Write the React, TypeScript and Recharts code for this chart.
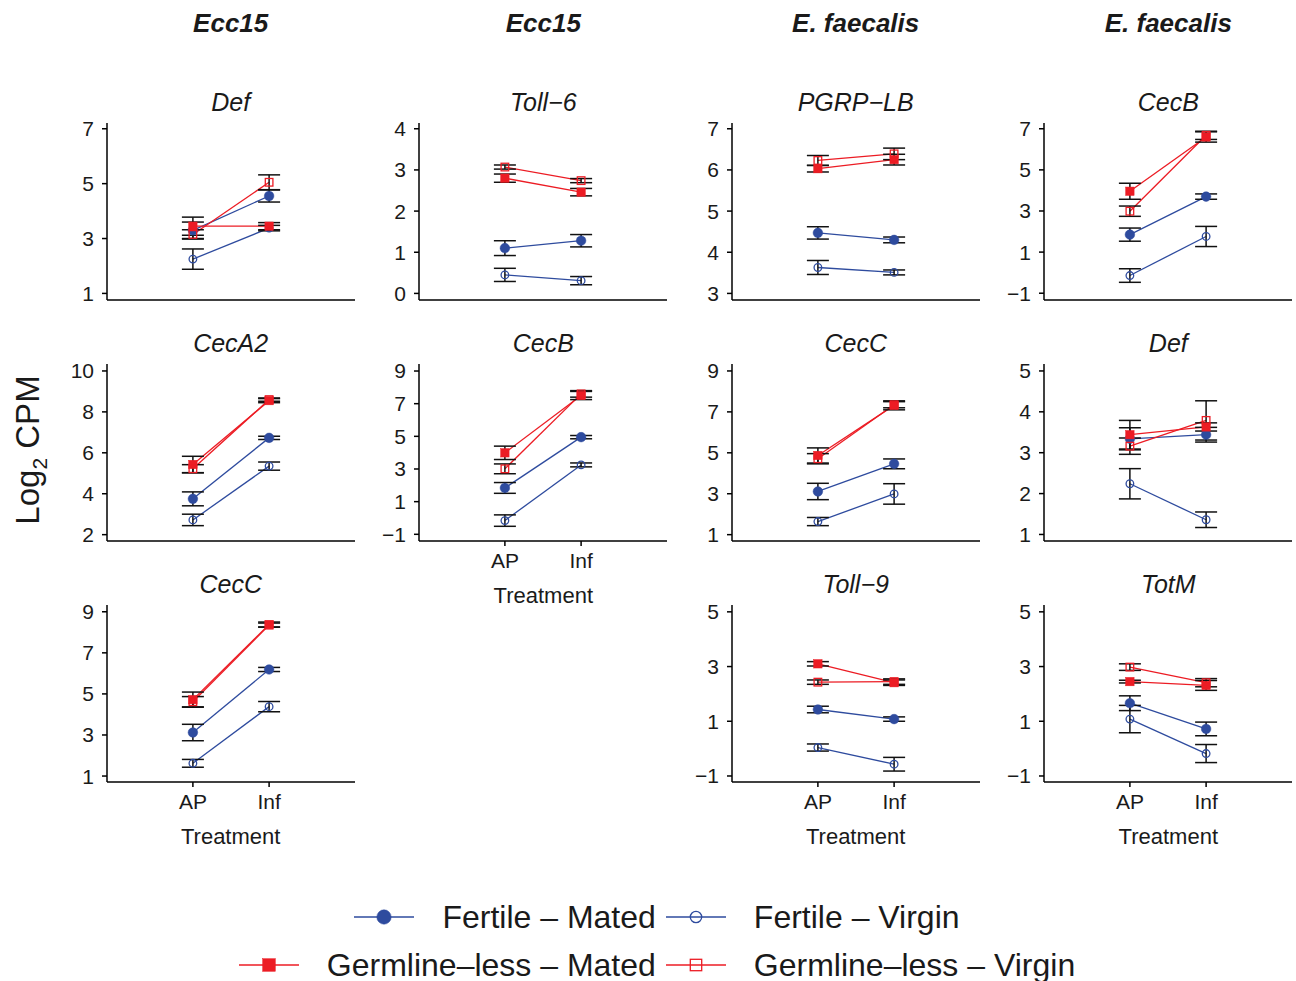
import React from 'react';
import { LineChart, Line, XAxis, YAxis, ErrorBar } from 'recharts';

// ---------- data ----------
const treatments = ['AP', 'Inf'];
const groupNames = ['Fertile – Mated', 'Fertile – Virgin', 'Germline–less – Mated', 'Germline–less – Virgin'];
const groupKeys = ['fm', 'fv', 'gm', 'gv'];
const headers = ['Ecc15', 'Ecc15', 'E. faecalis', 'E. faecalis'];

// means: [Fertile-Mated, Fertile-Virgin, Germline-less-Mated, Germline-less-Virgin], each [AP, Inf]
const ecc15DefMean = [[3.3, 4.55], [2.25, 3.38], [3.45, 3.45], [3.15, 5.05]];
const ecc15DefErr = [[0.3, 0.22], [0.37, 0.1], [0.33, 0.13], [0.17, 0.27]];
const ecc15Toll6Mean = [[1.1, 1.28], [0.45, 0.31], [2.8, 2.46], [3.07, 2.74]];
const ecc15Toll6Err = [[0.18, 0.15], [0.16, 0.1], [0.1, 0.09], [0.05, 0.05]];
const efPgrpMean = [[4.47, 4.3], [3.63, 3.51], [6.03, 6.25], [6.23, 6.39]];
const efPgrpErr = [[0.15, 0.07], [0.17, 0.06], [0.08, 0.13], [0.12, 0.14]];
const efCecBMean = [[1.85, 3.7], [-0.14, 1.76], [3.96, 6.6], [2.99, 6.68]];
const efCecBErr = [[0.32, 0.13], [0.33, 0.49], [0.39, 0.25], [0.25, 0.2]];
const ecc15CecA2Mean = [[3.75, 6.73], [2.72, 5.35], [5.43, 8.55], [5.22, 8.6]];
const ecc15CecA2Err = [[0.34, 0.08], [0.28, 0.2], [0.4, 0.1], [0.2, 0.08]];
const ecc15CecBMean = [[1.84, 4.95], [-0.16, 3.25], [3.99, 7.5], [3.01, 7.6]];
const ecc15CecBErr = [[0.33, 0.1], [0.35, 0.12], [0.41, 0.25], [0.3, 0.2]];
const efCecCMean = [[3.11, 4.46], [1.64, 2.99], [4.87, 7.32], [4.71, 7.35]];
const efCecCErr = [[0.4, 0.24], [0.2, 0.5], [0.37, 0.22], [0.25, 0.15]];
const efDefMean = [[3.34, 3.44], [2.24, 1.36], [3.44, 3.63], [3.16, 3.79]];
const efDefErr = [[0.27, 0.18], [0.37, 0.19], [0.35, 0.1], [0.2, 0.48]];
const ecc15CecCMean = [[3.12, 6.19], [1.62, 4.38], [4.72, 8.38], [4.62, 8.35]];
const ecc15CecCErr = [[0.4, 0.1], [0.19, 0.25], [0.37, 0.12], [0.25, 0.1]];
const efToll9Mean = [[1.43, 1.08], [0.04, -0.57], [3.1, 2.41], [2.43, 2.45]];
const efToll9Err = [[0.12, 0.08], [0.13, 0.25], [0.08, 0.1], [0.08, 0.1]];
const efTotMMean = [[1.66, 0.72], [1.08, -0.18], [2.45, 2.31], [2.98, 2.41]];
const efTotMErr = [[0.27, 0.25], [0.5, 0.33], [0.05, 0.18], [0.12, 0.15]];

// ---------- layout / styling ----------
const BLUE = '#2E4B9E';
const RED = '#EC1C24';
const colLefts = [106.7, 419.3, 731.7, 1044.3];
const rowTops = [122.7, 363.7, 604.7];
const PW = 248;
const PH = 177;
const YW = 60;
const MT = 14;
const XH = 40;
const FONT = "'Liberation Sans', Arial, Helvetica, sans-serif";

const panels = [
  { title: 'Def', col: 0, row: 0, mean: ecc15DefMean, err: ecc15DefErr, domain: [0.76, 7.21], ticks: [1, 3, 5, 7], showX: false },
  { title: 'Toll−6', col: 1, row: 0, mean: ecc15Toll6Mean, err: ecc15Toll6Err, domain: [-0.16, 4.14], ticks: [0, 1, 2, 3, 4], showX: false },
  { title: 'PGRP−LB', col: 2, row: 0, mean: efPgrpMean, err: efPgrpErr, domain: [2.84, 7.14], ticks: [3, 4, 5, 6, 7], showX: false },
  { title: 'CecB', col: 3, row: 0, mean: efCecBMean, err: efCecBErr, domain: [-1.33, 7.28], ticks: [-1, 1, 3, 5, 7], showX: false },
  { title: 'CecA2', col: 0, row: 1, mean: ecc15CecA2Mean, err: ecc15CecA2Err, domain: [1.69, 10.34], ticks: [2, 4, 6, 8, 10], showX: false },
  { title: 'CecB', col: 1, row: 1, mean: ecc15CecBMean, err: ecc15CecBErr, domain: [-1.41, 9.43], ticks: [-1, 1, 3, 5, 7, 9], showX: true },
  { title: 'CecC', col: 2, row: 1, mean: efCecCMean, err: efCecCErr, domain: [0.69, 9.34], ticks: [1, 3, 5, 7, 9], showX: false },
  { title: 'Def', col: 3, row: 1, mean: efDefMean, err: efDefErr, domain: [0.84, 5.17], ticks: [1, 2, 3, 4, 5], showX: false },
  { title: 'CecC', col: 0, row: 2, mean: ecc15CecCMean, err: ecc15CecCErr, domain: [0.71, 9.33], ticks: [1, 3, 5, 7, 9], showX: true },
  { title: 'Toll−9', col: 2, row: 2, mean: efToll9Mean, err: efToll9Err, domain: [-1.22, 5.25], ticks: [-1, 1, 3, 5], showX: true },
  { title: 'TotM', col: 3, row: 2, mean: efTotMMean, err: efTotMErr, domain: [-1.22, 5.25], ticks: [-1, 1, 3, 5], showX: true },
];

const groupColors = [BLUE, BLUE, RED, RED];
const groupShapes = ['circleFilled', 'circleOpen', 'squareFilled', 'squareOpen'];

function buildRows(mean: number[][], err: number[][]) {
  return treatments.map((t, i) => {
    const row: any = { x: i + 1, treatment: t };
    groupKeys.forEach((k, g) => {
      row[k] = mean[g][i];
      row[k + 'Err'] = err[g][i];
    });
    return row;
  });
}

function Marker({ shape, color, cx, cy, scale = 1 }: any) {
  if (shape === 'circleFilled') return <circle cx={cx} cy={cy} r={4.8 * scale} fill={color} stroke={color} strokeWidth={0.5} />;
  if (shape === 'circleOpen') return <circle cx={cx} cy={cy} r={3.8 * scale} fill="none" stroke={color} strokeWidth={1.3} />;
  if (shape === 'squareFilled') {
    const s = 8.4 * scale;
    return <rect x={cx - s / 2} y={cy - s / 2} width={s} height={s} fill={color} stroke={color} strokeWidth={0.5} />;
  }
  const s = 7.6 * scale;
  return <rect x={cx - s / 2} y={cy - s / 2} width={s} height={s} fill="none" stroke={color} strokeWidth={1.3} />;
}

const makeDot = (shape: string, color: string) => (props: any) => {
  const { cx, cy, index } = props;
  if (cx == null || cy == null) return <g key={'e' + index} />;
  return (
    <g key={shape + index}>
      <Marker shape={shape} color={color} cx={cx} cy={cy} />
    </g>
  );
};

const fmtY = (v: number) => (v < 0 ? '−' + Math.abs(v) : String(v));
const fmtX = (v: number) => treatments[v - 1] ?? '';

function Panel({ p }: any) {
  const data = buildRows(p.mean, p.err);
  const left = colLefts[p.col] - YW;
  const top = rowTops[p.row] - MT;
  return (
    <div style={{ position: 'absolute', left, top }}>
      <LineChart width={YW + PW + 2} height={MT + PH + XH} data={data} margin={{ top: MT, right: 2, bottom: 0, left: 0 }}>
        <XAxis
          type="number"
          dataKey="x"
          domain={[-0.127, 3.127]}
          ticks={[1, 2]}
          interval={0}
          allowDataOverflow
          tickFormatter={fmtX}
          height={XH}
          tickSize={5}
          tickMargin={7}
          axisLine={{ stroke: '#000', strokeWidth: 1.5 }}
          tickLine={{ stroke: '#000', strokeWidth: 1.5 }}
          tick={p.showX ? { fill: '#1a1a1a', fontSize: 21 } : false}
        />
        <YAxis
          type="number"
          domain={p.domain}
          ticks={p.ticks}
          interval={0}
          allowDataOverflow
          tickFormatter={fmtY}
          width={YW}
          tickSize={5}
          tickMargin={8}
          axisLine={{ stroke: '#000', strokeWidth: 1.5 }}
          tickLine={{ stroke: '#000', strokeWidth: 1.5 }}
          tick={{ fill: '#1a1a1a', fontSize: 21 }}
        />
        {groupKeys.map((k, g) => (
          <Line key={'l' + k} dataKey={k} stroke={groupColors[g]} strokeWidth={1.3} dot={false} activeDot={false} isAnimationActive={false} />
        ))}
        {groupKeys.map((k, g) => (
          <Line key={'d' + k} dataKey={k} stroke="none" dot={makeDot(groupShapes[g], groupColors[g])} activeDot={false} isAnimationActive={false} />
        ))}
        {groupKeys.map((k) => (
          <Line key={'e' + k} dataKey={k} stroke="none" dot={false} activeDot={false} isAnimationActive={false}>
            <ErrorBar dataKey={k + 'Err'} direction="y" width={11} stroke="#111" strokeWidth={1.5} isAnimationActive={false} />
          </Line>
        ))}
      </LineChart>
    </div>
  );
}

function LegendKey({ g }: any) {
  return (
    <svg width={60} height={30} style={{ display: 'block' }}>
      <line x1={0} y1={15} x2={60} y2={15} stroke={groupColors[g]} strokeWidth={1.5} />
      <Marker shape={groupShapes[g]} color={groupColors[g]} cx={30} cy={15} scale={1.5} />
    </svg>
  );
}

const legendRows = [
  [0, 1],
  [2, 3],
];

export default function App() {
  return (
    <div style={{ position: 'absolute', left: 0, top: 0, width: 1296, height: 981, background: '#fff', fontFamily: FONT, color: '#1a1a1a', overflow: 'hidden' }}>
      {headers.map((h, c) => (
        <div key={'h' + c} style={{ position: 'absolute', left: colLefts[c], width: PW, top: 6, textAlign: 'center', fontSize: 26, fontWeight: 'bold', fontStyle: 'italic', lineHeight: '34px' }}>
          {h}
        </div>
      ))}
      {panels.map((p, i) => (
        <div key={'t' + i} style={{ position: 'absolute', left: colLefts[p.col], width: PW, top: rowTops[p.row] - 37, textAlign: 'center', fontSize: 25, fontStyle: 'italic', lineHeight: '32px' }}>
          {p.title}
        </div>
      ))}
      {panels.map((p, i) => (
        <Panel key={'p' + i} p={p} />
      ))}
      {panels.filter((p) => p.showX).map((p, i) => (
        <div key={'x' + i} style={{ position: 'absolute', left: colLefts[p.col], width: PW, top: rowTops[p.row] + PH + 41, textAlign: 'center', fontSize: 22, lineHeight: '28px' }}>
          Treatment
        </div>
      ))}
      <div style={{ position: 'absolute', left: 28, top: 450, transform: 'translate(-50%, -50%) rotate(-90deg)', fontSize: 33, whiteSpace: 'nowrap', lineHeight: '38px' }}>
        Log<sub style={{ fontSize: 21, verticalAlign: 'sub', lineHeight: 0 }}>2</sub> CPM
      </div>
      {legendRows.map((r, ri) => (
        <div key={'lg' + ri} style={{ position: 'absolute', left: 0, width: 1314, top: 900 + ri * 48, height: 34, display: 'flex', justifyContent: 'center', alignItems: 'center' }}>
          {r.map((g, j) => (
            <React.Fragment key={g}>
              <LegendKey g={g} />
              <span style={{ fontSize: 32, marginLeft: 28, marginRight: j === 0 ? 10 : 0, whiteSpace: 'nowrap' }}>{groupNames[g]}</span>
            </React.Fragment>
          ))}
        </div>
      ))}
    </div>
  );
}
